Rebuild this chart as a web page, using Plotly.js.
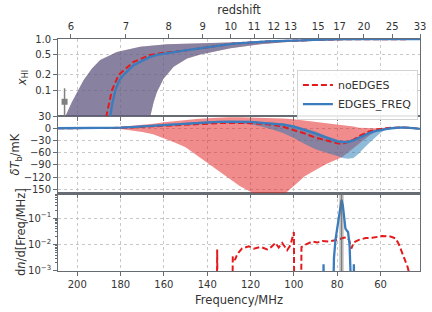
<!DOCTYPE html>
<html><head><meta charset="utf-8">
<script src="https://cdn.plot.ly/plotly-3.0.1.min.js"></script>
<style>html,body{margin:0;padding:0;background:#fff}#chart{width:432px;height:312px}</style>
</head><body><div id="chart"></div>
<script>
const NU21 = 1420.40575;
const zRange = [5.8, 33];
const redshiftTicks = [6, 7, 8, 9, 10, 11, 12, 13, 15, 17, 20, 25, 33];
const freqTicks = [200, 180, 160, 140, 120, 100, 80, 60];

// ---- top panel: neutral fraction x_HI ----
const xhiBandUpFreq = [207.5, 205.5, 202.5, 200.1, 197.1, 193.2, 189.4, 181.7, 170.9, 158.6, 143.2, 129.3, 115.5, 101.6, 87.7, 80, 60, 41.8];
const xhiBandUp     = [0.015, 0.031, 0.059, 0.093, 0.157, 0.266, 0.39, 0.56, 0.71, 0.79, 0.83, 0.86, 0.9, 0.94, 0.965, 0.985, 1.0, 1.0];
const xhiBandLoFreq = [167.5, 166.3, 164.75, 163.2, 160.1, 155.5, 149.3, 143.2, 129.3, 115.5, 101.6, 87.7, 75, 60, 41.8];
const xhiBandLo     = [0.015, 0.031, 0.059, 0.093, 0.17, 0.29, 0.42, 0.5, 0.66, 0.79, 0.89, 0.93, 0.975, 0.998, 1.0];

const xhiEdgesFreq = [185.5, 184.75, 183.8, 182.4, 180.6, 178.7, 174.0, 166.3, 162.6, 150, 143.2, 127.9, 112.2, 97, 83, 70, 41.8];
const xhiEdges     = [0.02, 0.031, 0.056, 0.1, 0.157, 0.2, 0.31, 0.45, 0.5, 0.6, 0.66, 0.82, 0.9, 0.955, 0.985, 0.995, 1.0];
const xhiNoEdgesFreq = [187.3, 186.6, 184.0, 180.9, 177.0, 174.0, 166.3, 160.0, 150, 143.2, 127.9, 112.2, 97, 83, 70, 41.8];
const xhiNoEdges     = [0.02, 0.031, 0.1, 0.2, 0.28, 0.36, 0.49, 0.54, 0.6, 0.66, 0.82, 0.9, 0.955, 0.985, 0.995, 1.0];

const obsZ = [5.9];
const obsXhi = [0.06];
const obsErrPlus = [0.05];
const obsErrMinus = [0.0595];

// ---- middle panel: brightness temperature ----
const dtFreq = [208.8, 200, 190, 185, 180, 175, 170, 165, 160, 155, 150, 145, 140, 135, 130, 125, 120, 115, 110, 105, 100, 95, 90, 85, 80, 77.5, 75, 72.5, 70, 67.5, 65, 62.5, 60, 57.5, 55, 50, 45, 41.8];
const dtEdges   = [0, 0, 0.2, 0.5, 1.5, 2.8, 4.5, 6.5, 8.5, 10.5, 12, 13.3, 14.5, 15.5, 16, 16, 15.5, 13, 11.5, 9, 4, -3.8, -12.9, -23, -32.8, -34.3, -34, -30, -23.5, -17, -11.5, -7, -4, -2, 0, 2, 0.5, -1.5];
const dtNoEdges = [0, 0, 0, 0.3, 1, 2, 3.5, 5, 6.5, 8, 9.5, 10.5, 11.5, 12.5, 13, 13, 12.5, 11, 8.5, 3.5, -4, -13, -23, -30.5, -37, -38.5, -34, -28.5, -19.5, -12.5, -7.5, -4, -1.5, 0, 1.2, 1.8, 0.5, -1.5];
const dtNoEdgesUp = [0, 0.5, 1, 2, 3.5, 5.5, 8, 11, 14.5, 17.5, 20, 22.5, 24.5, 26, 27, 27, 26.5, 26.5, 25.5, 24, 22, 19, 15.5, 12.5, 10, 8, 6, 4, 1.5, 0.5, 0, 0, 0.3, 0.8, 1.5, 2.5, 1, 0];
const dtNoEdgesLo = [0, 0, -0.3, -1, -2, -5, -9, -15, -25, -35, -47, -66, -85, -104, -123, -142, -156, -170, -176, -165, -142, -118, -103, -88, -76, -70, -60, -50, -38, -28, -17, -9, -4, -1, 0, 1, -0.5, -2];
const dtEdgesUp = [0.5, 0.5, 1, 1.5, 2.5, 4, 6, 8.5, 10.5, 12.5, 14, 15.5, 17, 18, 18.5, 18.5, 18, 16, 14.5, 12, 7.5, 0, -8, -19, -28, -30, -30, -26, -19.5, -13, -8, -4.5, -2, 0, 1.5, 2.5, 1, -1];
const dtEdgesLo = [-0.5, -0.5, -0.5, -0.5, 0.5, 1.5, 3, 4.5, 6, 7.5, 9, 10, 11, 12, 12, 11.5, 10, 4, -3, -12, -24, -39, -52, -60, -68, -73, -75, -73, -62, -48, -35, -22, -11, -3, 0, 1.5, 0, -2];

// ---- bottom panel: distribution of the absorption frequency ----
const histNoEdgesFreq = [137, 135.7, 135.4, 135.1, 128.6, 128.2, 127.2, 126, 123.9, 120.8, 118.5, 115.4, 112.3, 110.5, 108.5, 107, 105.4, 103.1, 101.6, 100.0, 99.7, 96.8, 96.5, 94.6, 91.5, 89.2, 86.9, 83.9, 80.8, 78.5, 77.0, 75.5, 74.5, 73.5, 72.3, 70.0, 66.9, 63.8, 59.2, 55.4, 53.0, 51.5, 49.2, 47.6, 46.9];
const histNoEdges = [1e-6, 1e-6, 6.5e-3, 1e-6, 1e-6, 3.5e-3, 2.6e-3, 4.5e-3, 7.1e-3, 8.6e-3, 7e-3, 8.1e-3, 6.5e-3, 8e-3, 1.15e-2, 7.7e-3, 1.15e-2, 6.1e-3, 9.4e-3, 3e-2, 1e-6, 1e-6, 8e-3, 1e-2, 1.3e-2, 1.2e-2, 1.35e-2, 1.3e-2, 1.45e-2, 1.7e-2, 1.8e-2, 1.9e-2, 1.5e-2, 7e-3, 1.2e-2, 1.5e-2, 1.75e-2, 1.8e-2, 2.1e-2, 2e-2, 1.7e-2, 1e-2, 3.4e-3, 1.5e-3, 9e-4];
const histEdgesFreq = [86.6, 86.3, 86.0, 82.3, 81.5, 80.8, 80.0, 79.2, 78.6, 78.0, 77.4, 76.8, 76.2, 75.5, 75.0, 74.3, 73.8, 73.4, 72.6, 72.3, 72.0];
const histEdges = [1e-6, 1.8e-3, 1e-6, 1e-6, 3e-3, 0.015, 0.042, 0.13, 0.3, 0.49, 0.3, 0.12, 0.04, 0.033, 0.03, 0.01, 0.002, 1e-6, 1e-6, 1.8e-3, 1e-6];
const edgesBand = [76.9, 79.2];
const edgesCenter = 78.0;

// ---- styles ----
const RED = '#e41a1c', BLUE = '#3a7cbd';
const RED_FILL = 'rgba(228,26,28,0.5)', BLUE_FILL = 'rgba(31,119,180,0.5)';
const FRAME = '#676c72';
const xRange = [NU21 / (1 + zRange[0]), NU21 / (1 + zRange[1])];
const rev = a => a.slice().reverse();

const traces = [];
const polyX = xhiBandUpFreq.concat(rev(xhiBandLoFreq));
const polyY = xhiBandUp.concat(rev(xhiBandLo));
traces.push({x: polyX, y: polyY, xaxis: 'x3', yaxis: 'y3', fill: 'toself', fillcolor: RED_FILL, line: {width: 0}, mode: 'lines', showlegend: false, hoverinfo: 'skip'});
traces.push({x: polyX, y: polyY, xaxis: 'x3', yaxis: 'y3', fill: 'toself', fillcolor: BLUE_FILL, line: {width: 0}, mode: 'lines', showlegend: false, hoverinfo: 'skip'});
traces.push({x: xhiNoEdgesFreq, y: xhiNoEdges, xaxis: 'x3', yaxis: 'y3', mode: 'lines', name: 'noEDGES', line: {color: RED, width: 2, dash: '6px,3px'}});
traces.push({x: xhiEdgesFreq, y: xhiEdges, xaxis: 'x3', yaxis: 'y3', mode: 'lines', name: 'EDGES_FREQ', line: {color: BLUE, width: 2.3}});
traces.push({x: obsZ.map(z => NU21 / (1 + z)), y: obsXhi, xaxis: 'x4', yaxis: 'y3', mode: 'markers', showlegend: false,
  marker: {symbol: 'square', size: 6, color: '#808080'},
  error_y: {type: 'data', array: obsErrPlus, arrayminus: obsErrMinus, color: '#808080', thickness: 1.5, width: 0}});

traces.push({x: dtFreq.concat(rev(dtFreq)), y: dtNoEdgesUp.concat(rev(dtNoEdgesLo)), xaxis: 'x2', yaxis: 'y2', fill: 'toself', fillcolor: RED_FILL, line: {width: 0}, mode: 'lines', showlegend: false, hoverinfo: 'skip'});
traces.push({x: dtFreq.concat(rev(dtFreq)), y: dtEdgesUp.concat(rev(dtEdgesLo)), xaxis: 'x2', yaxis: 'y2', fill: 'toself', fillcolor: BLUE_FILL, line: {width: 0}, mode: 'lines', showlegend: false, hoverinfo: 'skip'});
traces.push({x: dtFreq, y: dtNoEdges, xaxis: 'x2', yaxis: 'y2', mode: 'lines', showlegend: false, line: {color: RED, width: 2, dash: '6px,3px'}});
traces.push({x: dtFreq, y: dtEdges, xaxis: 'x2', yaxis: 'y2', mode: 'lines', showlegend: false, line: {color: BLUE, width: 2.3}});

traces.push({x: histNoEdgesFreq, y: histNoEdges, xaxis: 'x', yaxis: 'y', mode: 'lines', showlegend: false, line: {color: RED, width: 2, dash: '6px,3px'}});
traces.push({x: histEdgesFreq, y: histEdges, xaxis: 'x', yaxis: 'y', mode: 'lines', showlegend: false, line: {color: BLUE, width: 2.3}});

const common = {
  range: xRange, tickvals: freqTicks, ticks: 'outside', ticklen: 3.5, tickwidth: 1, tickcolor: FRAME,
  showline: true, mirror: true, linecolor: FRAME, linewidth: 1.4,
  showgrid: true, gridcolor: '#c8c8c8', griddash: 'dot', gridwidth: 1, zeroline: false
};
const ycommon = {
  ticks: 'outside', ticklen: 3.5, tickwidth: 1, tickcolor: FRAME,
  showline: true, mirror: true, linecolor: FRAME, linewidth: 1.4,
  showgrid: true, gridcolor: '#c8c8c8', griddash: 'dot', gridwidth: 1, zeroline: false
};

const layout = {
  width: 432, height: 312,
  margin: {l: 58, r: 12, t: 39, b: 41},
  paper_bgcolor: 'white', plot_bgcolor: 'white',
  font: {family: 'DejaVu Sans', size: 10, color: '#333'},
  legend: {x: 0.66, y: 0.868, xanchor: 'left', yanchor: 'top', bgcolor: 'rgba(255,255,255,0.85)',
           bordercolor: '#d4d4d4', borderwidth: 1, font: {size: 11}, tracegroupgap: 0},
  xaxis: Object.assign({}, common, {anchor: 'y', title: {text: 'Frequency/MHz', font: {size: 11.5}, standoff: 7}}),
  xaxis2: Object.assign({}, common, {anchor: 'y2', showticklabels: false}),
  xaxis3: Object.assign({}, common, {anchor: 'y3', showticklabels: false}),
  xaxis4: {overlaying: 'x3', anchor: 'y3', side: 'top', range: xRange,
           tickvals: redshiftTicks.map(z => NU21 / (1 + z)), ticktext: redshiftTicks.map(String),
           ticks: 'outside', ticklen: 3.5, tickwidth: 1, tickcolor: FRAME, showgrid: false,
           showline: true, linecolor: FRAME, linewidth: 1.4, zeroline: false,
           title: {text: 'redshift', font: {size: 11.5}, standoff: 4}},
  yaxis: Object.assign({}, ycommon, {domain: [0, 0.335], type: 'log', range: [-3.002, -0.06],
           tickvals: [1e-3, 1e-2, 1e-1], ticktext: ['10<sup>−3</sup>', '10<sup>−2</sup>', '10<sup>−1</sup>'],
           minor: {ticks: 'outside', ticklen: 2, tickcolor: FRAME, dtick: 'D1', showgrid: false},
           title: {text: 'd<i>n</i>/d[Freq/MHz]', font: {size: 11.5}, standoff: 0}}),
  yaxis2: Object.assign({}, ycommon, {domain: [0.335, 0.668], range: [-160, 30.05],
           tickvals: [30, 0, -30, -60, -90, -120, -150],
           title: {text: '<i>δT</i><sub>b</sub>/mK', font: {size: 11.5}, standoff: 0}}),
  yaxis3: Object.assign({}, ycommon, {domain: [0.668, 1], type: 'log', range: [-1.5, 0.002],
           tickvals: [0.1, 0.2, 0.5, 1], ticktext: ['0.1', '0.2', '0.5', '1.0'],
           title: {text: '<i>x</i><sub>HI</sub>', font: {size: 11.5}, standoff: 6}}),
  shapes: [
    {type: 'rect', xref: 'x', yref: 'y domain', x0: edgesBand[0], x1: edgesBand[1], y0: 0, y1: 1,
     fillcolor: 'rgba(150,150,150,0.45)', line: {width: 0}, layer: 'below'},
    {type: 'line', xref: 'x', yref: 'y domain', x0: edgesCenter, x1: edgesCenter, y0: 0, y1: 1,
     line: {color: 'rgba(110,110,110,0.85)', width: 1.5}, layer: 'above'}
  ]
};

Plotly.newPlot('chart', traces, layout, {staticPlot: true, displayModeBar: false});
</script></body></html>
